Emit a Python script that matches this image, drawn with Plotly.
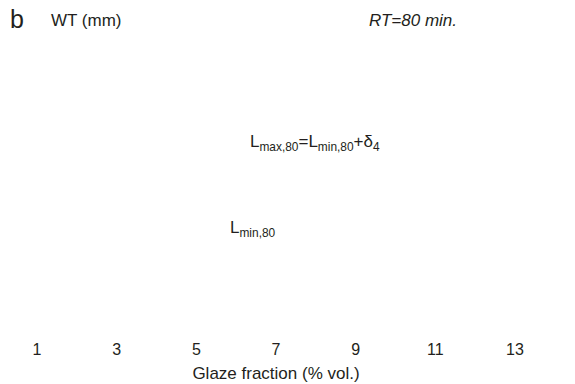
import plotly.graph_objects as go

x_ticks = [1, 3, 5, 7, 9, 11, 13]
x_tick_labels = ["1", "3", "5", "7", "9", "11", "13"]
x_title = "Glaze fraction (% vol.)"
y_title = "WT (mm)"
panel_label = "b"
condition = "RT=80 min."
label_max = "L<sub>max,80</sub>=L<sub>min,80</sub>+δ<sub>4</sub>"
label_min = "L<sub>min,80</sub>"

W, H = 575, 384
L, R, T, B = 37, 60, 10, 46
pw, ph = W - L - R, H - T - B

def px(x):
    return (x - L) / pw

def py(y):
    return (H - B - y) / ph

FONT = "Liberation Sans, Arial, Helvetica, sans-serif"
COL = "#231f20"

fig = go.Figure()
fig.add_trace(go.Scatter(x=[], y=[], mode="markers", showlegend=False))

fig.update_layout(
    width=W, height=H,
    margin=dict(l=L, r=R, t=T, b=B, autoexpand=False),
    plot_bgcolor="white", paper_bgcolor="white",
    font=dict(family=FONT, color=COL, size=16),
    showlegend=False,
    xaxis=dict(range=[1, 13], tickvals=x_ticks, ticktext=x_tick_labels,
               showgrid=False, zeroline=False, showline=False, ticks="",
               automargin=False,
               tickfont=dict(size=16, color=COL),
               title=dict(text=x_title, font=dict(size=17, color=COL), standoff=10)),
    yaxis=dict(range=[0, 1], showgrid=False, zeroline=False, showline=False,
               showticklabels=False, ticks="", automargin=False),
)

anns = [
    dict(text=panel_label, x=px(8), y=py(19), size=25),
    dict(text=y_title, x=px(49), y=py(20), size=17),
    dict(text="<i>" + condition + "</i>", x=px(367), y=py(20), size=17),
    dict(text=label_max, x=px(248), y=py(143), size=17),
    dict(text=label_min, x=px(228), y=py(229), size=17),
]
for a in anns:
    fig.add_annotation(text=a["text"], xref="paper", yref="paper", x=a["x"], y=a["y"],
                       xanchor="left", yanchor="middle", showarrow=False,
                       font=dict(family=FONT, size=a["size"], color=COL))

fig.write_html("out.html", config={"displayModeBar": False},
               post_script="document.body.style.margin='0';document.body.style.padding='0';")
